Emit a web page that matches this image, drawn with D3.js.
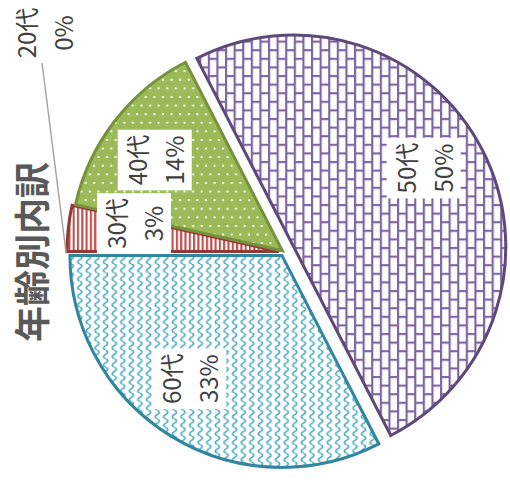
<!DOCTYPE html>
<html>
<head>
<meta charset="utf-8">
<script src="https://cdn.jsdelivr.net/npm/d3@7"></script>
<style>
  html, body { margin: 0; padding: 0; background: #fff; }
  svg { display: block; }
</style>
</head>
<body>
<svg id="chart" width="510" height="483"></svg>
<script>
// Age breakdown: number of respondents per age group
const categories = ["20代", "30代", "40代", "50代", "60代"];
const counts = [0, 3, 12, 43, 28];
const chartTitle = "年齢別内訳";

// ---- layout & style ----
const W = 510, H = 483;
const cx = 284, cy = 252, radius = 212;
const explodeBy = { "30代": 5, "40代": 2, "50代": 11, "60代": 4 };
const labelRadius = 155;
const labelNudge = { "20代": [0, 0], "30代": [9, -11], "40代": [-5, 4], "50代": [-8, -8], "60代": [-12, -9] };
const outline = { "20代": "#7F7F7F", "30代": "#953735", "40代": "#76923C", "50代": "#5F497A", "60代": "#31859C" };
const fontFamily = "'Noto Sans CJK JP', 'Noto Sans', sans-serif";

const svg = d3.select("#chart");
svg.append("rect").attr("width", W).attr("height", H).attr("fill", "#fff");

// ---- fill patterns ----
const defs = svg.append("defs");
const u = 2.15; // one pattern pixel

// vertical bricks
const brick = defs.append("pattern").attr("id", "pat-50").attr("patternUnits", "userSpaceOnUse")
  .attr("width", 8 * u).attr("height", 8 * u);
brick.append("rect").attr("width", 8 * u).attr("height", 8 * u).attr("fill", "#fff");
brick.append("path")
  .attr("d", `M${u / 2},0V${8 * u} M${4 * u + u / 2},0V${8 * u} M0,${u / 2}H${4 * u} M${4 * u},${4 * u + u / 2}H${8 * u}`)
  .attr("stroke", "#8064A2").attr("stroke-width", u).attr("fill", "none");

// vertical waves
const wave = defs.append("pattern").attr("id", "pat-60").attr("patternUnits", "userSpaceOnUse")
  .attr("width", 4 * u).attr("height", 4 * u);
wave.append("rect").attr("width", 4 * u).attr("height", 4 * u).attr("fill", "#fff");
wave.append("path")
  .attr("d", `M${2 * u},0 C${3.3 * u},${0.7 * u} ${3.3 * u},${1.3 * u} ${2 * u},${2 * u} C${0.7 * u},${2.7 * u} ${0.7 * u},${3.3 * u} ${2 * u},${4 * u}`)
  .attr("stroke", "#4BACC6").attr("stroke-width", 1.7).attr("fill", "none");

// white dots on green
const dots = defs.append("pattern").attr("id", "pat-40").attr("patternUnits", "userSpaceOnUse")
  .attr("width", 4 * u).attr("height", 8 * u);
dots.append("rect").attr("width", 4 * u).attr("height", 8 * u).attr("fill", "#9BBB59");
dots.append("rect").attr("x", 0).attr("y", 0).attr("width", u * 0.9).attr("height", u * 0.9).attr("fill", "#fff");
dots.append("rect").attr("x", 2 * u).attr("y", 4 * u).attr("width", u * 0.9).attr("height", u * 0.9).attr("fill", "#fff");

// narrow vertical stripes
const stripe = defs.append("pattern").attr("id", "pat-30").attr("patternUnits", "userSpaceOnUse")
  .attr("width", 2 * u).attr("height", 2 * u);
stripe.append("rect").attr("width", 2 * u).attr("height", 2 * u).attr("fill", "#fff");
stripe.append("rect").attr("width", u).attr("height", 2 * u).attr("fill", "#C0504D");

const fillFor = c => c === "20代" ? "#fff" : `url(#pat-${c.slice(0, 2)})`;

// ---- pie ----
const total = d3.sum(counts);
const pie = d3.pie().sort(null).value(d => d.value)
  .startAngle(-Math.PI / 2).endAngle(1.5 * Math.PI);
const arcs = pie(categories.map((c, i) => ({ cat: c, value: counts[i] })));
const arc = d3.arc().innerRadius(0).outerRadius(radius);
const labelArc = d3.arc().innerRadius(labelRadius).outerRadius(labelRadius);

function offsetOf(a) {
  const e = explodeBy[a.data.cat] || 0;
  const mid = (a.startAngle + a.endAngle) / 2;
  return [e * Math.sin(mid), -e * Math.cos(mid)];
}

const pieG = svg.append("g").attr("transform", `translate(${cx},${cy})`);
pieG.selectAll("path.slice")
  .data(arcs.filter(a => a.value > 0))
  .join("path")
  .attr("class", "slice")
  .attr("transform", a => { const [dx, dy] = offsetOf(a); return `translate(${dx},${dy})`; })
  .attr("d", arc)
  .attr("fill", a => fillFor(a.data.cat))
  .attr("stroke", a => outline[a.data.cat])
  .attr("stroke-width", 3)
  .attr("stroke-linejoin", "miter");

// ---- data labels ----
const labelsG = svg.append("g");
arcs.forEach(a => {
  const cat = a.data.cat;
  const pct = Math.round(a.value / total * 100) + "%";
  let x, y;
  const nudge = labelNudge[cat];
  if (a.value > 0) {
    const [dx, dy] = offsetOf(a);
    const [lx, ly] = labelArc.centroid(a);
    x = cx + dx + lx + nudge[0];
    y = cy + dy + ly + nudge[1];
  } else {
    // zero-size slice: label sits outside with a leader line to the rim
    const edge = d3.arc().innerRadius(radius).outerRadius(radius).centroid(a);
    x = 44; y = 33;
    svg.append("line")
      .attr("x1", x - 2).attr("y1", y + 30)
      .attr("x2", cx + edge[0] - 6).attr("y2", cy + edge[1])
      .attr("stroke", "#A6A6A6").attr("stroke-width", 1.5);
  }
  const g = labelsG.append("g").attr("transform", `translate(${x},${y}) rotate(-90)`);
  const box = g.append("rect").attr("fill", "#fff");
  const t = g.append("text")
    .attr("font-family", fontFamily).attr("font-size", 24).attr("fill", "#404040")
    .attr("text-anchor", "middle");
  const lineH = 37;
  t.append("tspan").attr("x", 0).attr("y", -lineH / 2).attr("dominant-baseline", "central").text(cat);
  t.append("tspan").attr("x", 0).attr("y", lineH / 2).attr("dominant-baseline", "central").text(pct);
  const bb = t.node().getBBox();
  const bw = bb.width + 10, bh = 2 * lineH;
  box.attr("x", -bw / 2).attr("y", -bh / 2).attr("width", bw).attr("height", bh);
});

// ---- title ----
svg.append("text")
  .attr("transform", `translate(30,252) rotate(-90)`)
  .attr("text-anchor", "middle").attr("dominant-baseline", "central")
  .attr("font-family", fontFamily).attr("font-weight", "bold")
  .attr("font-size", 36).attr("fill", "#595959")
  .text(chartTitle);
</script>
</body>
</html>
